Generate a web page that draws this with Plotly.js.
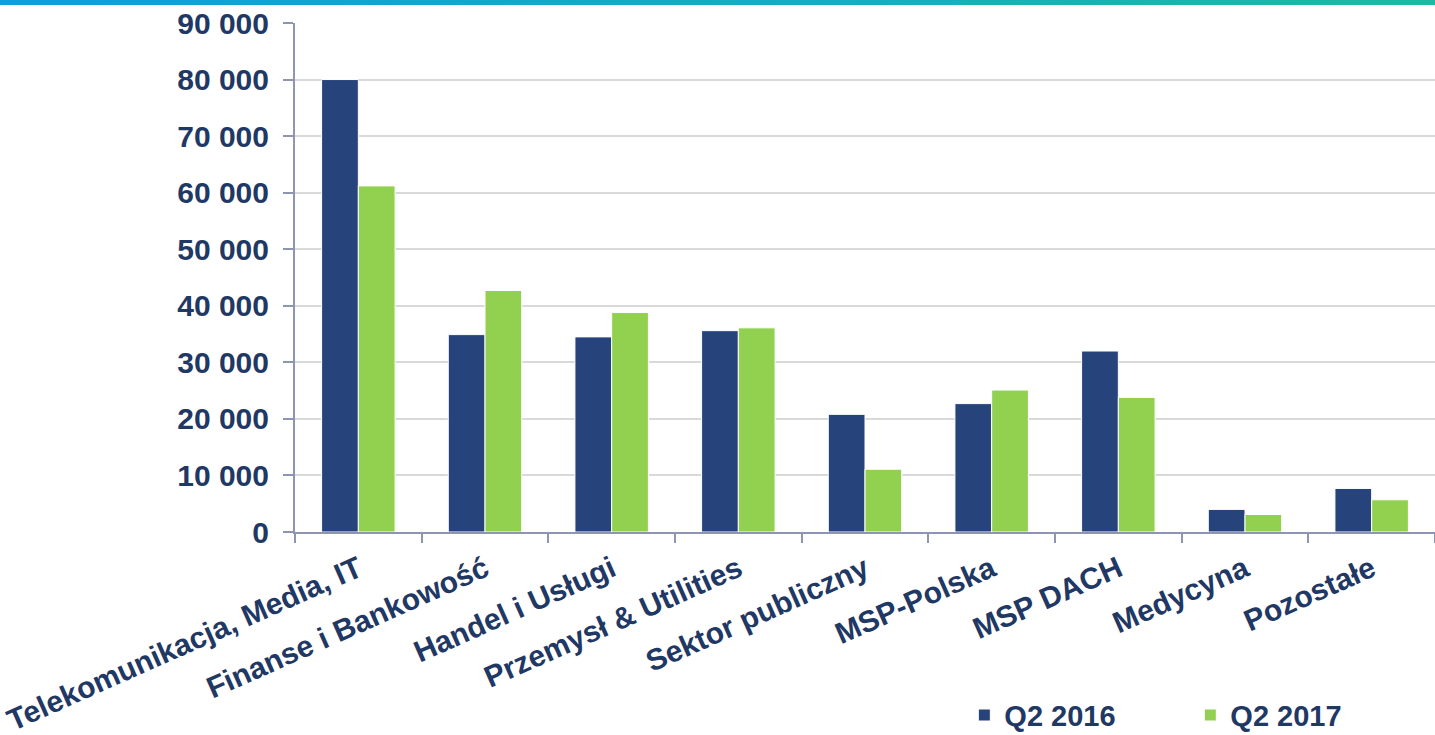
<!DOCTYPE html>
<html>
<head>
<meta charset="utf-8">
<script src="https://cdn.plot.ly/plotly-3.0.1.min.js"></script>
<style>
html,body{margin:0;padding:0;background:#fff;}
#bar{position:absolute;left:0;top:0;width:1435px;height:5px;background:linear-gradient(to right,#0B9FDE,#1ABBA2);}
#chart{position:absolute;left:0;top:0;width:1435px;height:735px;}
</style>
</head>
<body>
<div id="chart"></div>
<div id="bar"></div>
<script>
const categories = ["Telekomunikacja, Media, IT","Finanse i Bankowość","Handel i Usługi","Przemysł & Utilities","Sektor publiczny","MSP-Polska","MSP DACH","Medycyna","Pozostałe"];
const q2016 = [80000, 34900, 34500, 35600, 20800, 22700, 32000, 4000, 7700];
const q2017 = [61200, 42700, 38800, 36100, 11100, 25100, 23800, 3100, 5700];
const yTicks = [0,10000,20000,30000,40000,50000,60000,70000,80000,90000];

const navy = "#26437B", green = "#92D050", txt = "#1F3864";
const traces = [
  {type:"bar", name:"Q2 2016", x:categories, y:q2016, marker:{color:navy, line:{color:"#ffffff", width:1}}},
  {type:"bar", name:"Q2 2017", x:categories, y:q2017, marker:{color:green, line:{color:"#ffffff", width:1}}}
];
const fam = "Liberation Sans, Arial, sans-serif";
const layout = {
  width:1435, height:735,
  margin:{l:295, r:0, t:23, b:203, pad:0, autoexpand:false},
  paper_bgcolor:"#fff", plot_bgcolor:"#fff",
  separators:", ",
  font:{family:fam, size:28, color:txt, weight:"bold"},
  barmode:"group", bargap:0.42, bargroupgap:0,
  showlegend:true,
  legend:{orientation:"h", xref:"container", yref:"container", x:0.672, y:0.027, yanchor:"middle", xanchor:"left",
          font:{family:fam, size:29, color:txt, weight:"bold"},
          entrywidth:181, entrywidthmode:"pixels", bgcolor:"rgba(0,0,0,0)"},
  xaxis:{type:"category", range:[-0.5,8.5], tickangle:-24, ticks:"outside", tickson:"boundaries", automargin:false,
         ticklen:9, tickwidth:2, tickcolor:"#8E95B2", showline:true, linecolor:"#8E95B2", linewidth:2,
         ticklabelstandoff:6,
         showgrid:false, tickfont:{family:fam, size:30, color:txt, weight:"bold"}},
  yaxis:{range:[0,90000], tickvals:yTicks, tickformat:",d", ticks:"outside", ticklen:10, tickwidth:2, automargin:false,
         tickcolor:"#8E95B2", showline:true, linecolor:"#8E95B2", linewidth:2,
         showgrid:true, gridcolor:"#D9D9D9", gridwidth:2, zeroline:false,
         ticklabelstandoff:8,
         tickfont:{family:fam, size:30, color:txt, weight:"bold"}}
};
Plotly.newPlot("chart", traces, layout, {displayModeBar:false, staticPlot:true});
</script>
</body>
</html>
